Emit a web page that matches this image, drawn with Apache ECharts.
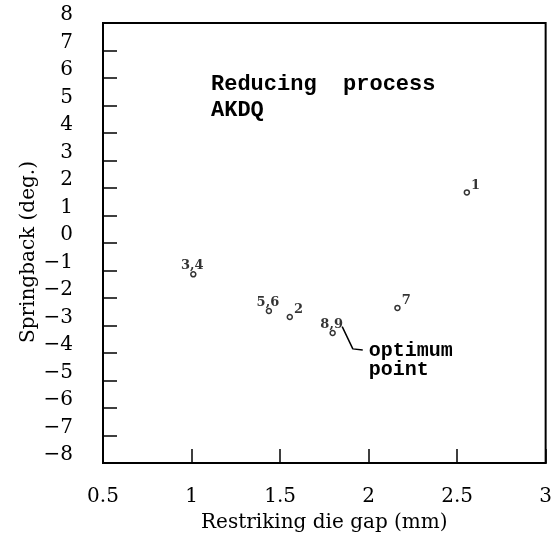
<!DOCTYPE html>
<html>
<head>
<meta charset="utf-8">
<script src="https://cdn.jsdelivr.net/npm/echarts@6/dist/echarts.min.js"></script>
<style>
  html, body { margin: 0; padding: 0; background: #fff; }
  #springback { width: 555px; height: 551px; }
</style>
</head>
<body>
<div id="springback"></div>
<script>
// test points (die gap mm, springback deg)
var pointNames = ['1', '2', '3,4', '5,6', '7', '8,9']
var gapValues = [2.555, 1.555, 1.01, 1.437, 2.163, 1.797]
var springValues = [1.84, -2.69, -1.14, -2.47, -2.36, -3.27]

// leader from the optimum point to its note
var leaderGap = [1.851, 1.911, 1.967]
var leaderSpring = [-3.04, -3.85, -3.89]

var xTicks = [0.5, 1, 1.5, 2, 2.5, 3]
var yMin = -8, yMax = 8

var chartsDom = document.getElementById('springback')
var myChart = echarts.init(chartsDom)

var points = pointNames.map(function (n, i) {
  var pair = n.indexOf(',') > -1
  return {
    value: [gapValues[i], springValues[i]],
    name: n,
    label: pair
      ? { position: 'top', distance: 0, offset: [-1, 1] }
      : { position: 'right', distance: 1, offset: [0, -7] }
  }
})

var leader = leaderGap.map(function (g, i) {
  return [g, leaderSpring[i]]
})

var option = {
  animation: false,
  textStyle: { fontFamily: 'DejaVu Serif', color: '#000' },
  title: {
    text: 'Reducing  process\nAKDQ',
    left: 206,
    top: 66,
    textStyle: {
      fontFamily: 'Liberation Mono',
      fontWeight: 'bold',
      fontSize: 22,
      lineHeight: 26,
      color: '#000'
    }
  },
  grid: {
    left: 103,
    right: 9,
    top: 23,
    bottom: 88,
    show: true,
    borderColor: '#000',
    borderWidth: 2
  },
  xAxis: {
    type: 'value',
    min: xTicks[0],
    max: xTicks[xTicks.length - 1],
    interval: 0.5,
    name: 'Restriking die gap (mm)',
    nameLocation: 'middle',
    nameGap: 50,
    nameMoveOverlap: false,
    nameTextStyle: { fontFamily: 'DejaVu Serif', fontSize: 20, color: '#000' },
    axisLine: { show: true, onZero: false, lineStyle: { color: '#000', width: 2 } },
    axisTick: { show: true, inside: true, length: 14, lineStyle: { color: '#000', width: 1.5 } },
    axisLabel: { margin: 24, fontFamily: 'DejaVu Serif', fontSize: 20, color: '#000' },
    splitLine: { show: false }
  },
  yAxis: {
    type: 'value',
    min: yMin,
    max: yMax,
    interval: 1,
    name: 'Springback (deg.)',
    nameLocation: 'middle',
    nameGap: 64,
    nameMoveOverlap: false,
    nameTextStyle: { fontFamily: 'DejaVu Serif', fontSize: 20, color: '#000', padding: [0, 18, 0, 0] },
    axisLine: { show: true, onZero: false, lineStyle: { color: '#000', width: 2 } },
    axisTick: { show: true, inside: true, length: 14, lineStyle: { color: '#000', width: 1.5 } },
    axisLabel: {
      margin: 30,
      fontFamily: 'DejaVu Serif',
      fontSize: 20,
      lineHeight: 16,
      verticalAlign: 'bottom',
      color: '#000',
      formatter: function (v) {
        return v < 0 ? '\u2212' + Math.abs(v) : String(v)
      }
    },
    splitLine: { show: false }
  },
  series: [
    {
      type: 'scatter',
      data: points,
      symbol: 'circle',
      symbolSize: 5,
      itemStyle: { color: '#fff', borderColor: '#000', borderWidth: 1.5 },
      label: {
        show: true,
        formatter: '{b}',
        fontFamily: 'DejaVu Serif',
        fontWeight: 'bold',
        fontSize: 13,
        color: '#000'
      }
    },
    {
      type: 'line',
      data: leader,
      symbol: 'none',
      lineStyle: { color: '#000', width: 1.5 },
      label: { show: false },
      endLabel: {
        show: true,
        formatter: 'optimum\npoint',
        fontFamily: 'Liberation Mono',
        fontWeight: 'bold',
        fontSize: 20,
        lineHeight: 19,
        color: '#000',
        distance: 6,
        offset: [0, 10]
      }
    }
  ]
}

myChart.setOption(option)
</script>
</body>
</html>
